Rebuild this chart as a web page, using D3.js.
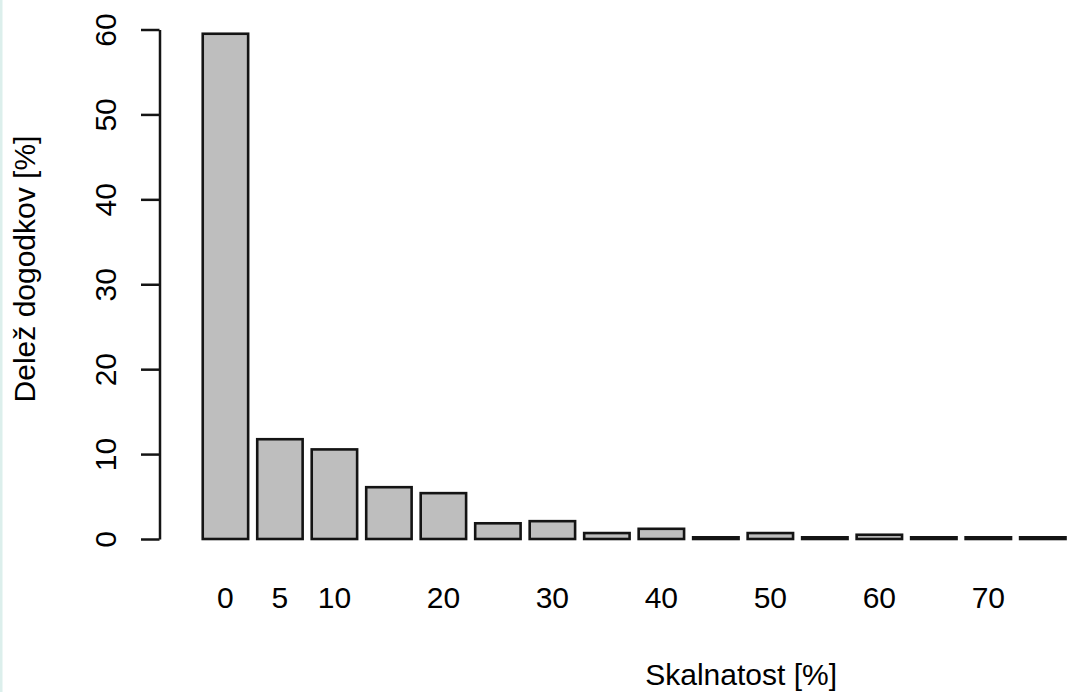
<!DOCTYPE html>
<html>
<head>
<meta charset="utf-8">
<script src="https://cdn.jsdelivr.net/npm/d3@7"></script>
<style>
  body { margin: 0; background: #fff; }
  svg { display: block; }
</style>
</head>
<body>
<div class="chartDiv"></div>
<script>

// ---------------- data ----------------
// rock cover classes [%] that are visible in the picture
let categories = ["0", "5", "10", "15", "20", "25", "30", "35", "40", "45", "50", "55", "60", "65", "70", "75"];
// share of events [%]
let shares = [59.5, 11.75, 10.55, 6.1, 5.4, 1.85, 2.1, 0.7, 1.2, 0.2, 0.7, 0.2, 0.5, 0.2, 0.2, 0.2];
// labels R kept under the bars (the others were dropped for overlap)
let xTickLabels = ["0", "5", "10", "20", "30", "40", "50", "60", "70"];
let yTicks = [0, 10, 20, 30, 40, 50, 60];

// the original barplot had 20 bars, the picture is cut off at the right
let nSlots = 20;

// ---------------- setup ----------------
let width = 1069,
    height = 692,
    fontSize = 30;

// barplot user coordinates like R: bar i spans [0.2 + 1.2i, 1.2 + 1.2i], xlim extended by 4%
let barLeft = i => 0.2 + 1.2 * i;
let xMin = barLeft(0), xMax = barLeft(nSlots - 1) + 1;
let ext = 0.04 * (xMax - xMin);
let pxPerUnit = 45.41;
let plotLeft = 159.5;

let x = d3.scaleLinear()
    .domain([xMin - ext, xMax + ext])
    .range([plotLeft, plotLeft + pxPerUnit * (xMax - xMin + 2 * ext)]);

let y = d3.scaleLinear()
    .domain([0, 60])
    .range([539, 29.5]);

let svg = d3.select(".chartDiv").append("svg")
    .attr("width", width)
    .attr("height", height)
    .style("background-color", "white")
    .style("font-family", "'Liberation Sans', Arial, sans-serif");

// thin light border at the left edge of the screenshot
svg.append("rect")
    .attr("x", 0)
    .attr("y", 0)
    .attr("width", 2.5)
    .attr("height", height)
    .attr("fill", "#dcefec");

// ---------------- bars ----------------
svg.append("g").selectAll("rect")
    .data(shares)
    .join("rect")
    .attr("x", (d, i) => x(barLeft(i)))
    .attr("width", (d, i) => x(barLeft(i) + 1) - x(barLeft(i)))
    .attr("y", d => y(d))
    .attr("height", d => y(0) - y(d))
    .attr("fill", "#bebebe")
    .attr("stroke", "#141414")
    .attr("stroke-width", 2.6);

// ---------------- y axis ----------------
let yAxis = d3.axisLeft(y)
    .tickValues(yTicks)
    .tickSize(18.5)
    .tickSizeOuter(0)
    .tickFormat(d3.format("d"));

let yAxisG = svg.append("g")
    .attr("transform", "translate(" + plotLeft + ",0)")
    .call(yAxis);

yAxisG.select(".domain")
    .attr("stroke", "#141414")
    .attr("stroke-width", 2.5);

yAxisG.selectAll(".tick line")
    .attr("stroke", "#141414")
    .attr("stroke-width", 2.5);

yAxisG.selectAll(".tick text")
    .attr("transform", "rotate(-90)")
    .attr("x", 0)
    .attr("y", -44)
    .attr("dy", 0)
    .style("text-anchor", "middle")
    .style("font-size", fontSize + "px")
    .style("font-family", "'Liberation Sans', Arial, sans-serif")
    .attr("fill", "#000");

// ---------------- x labels (no axis line, like barplot names) ----------------
svg.append("g").selectAll("text")
    .data(categories.map((c, i) => ({c: c, i: i})).filter(d => xTickLabels.includes(d.c)))
    .join("text")
    .attr("x", d => x(barLeft(d.i) + 0.5))
    .attr("y", 608)
    .attr("text-anchor", "middle")
    .style("font-size", fontSize + "px")
    .attr("fill", "#000")
    .text(d => d.c);

// ---------------- axis titles ----------------
svg.append("text")
    .attr("x", (x.range()[0] + x.range()[1]) / 2 - 2)
    .attr("y", 685)
    .attr("text-anchor", "middle")
    .style("font-size", fontSize + "px")
    .attr("fill", "#000")
    .text("Skalnatost [%]");

svg.append("text")
    .attr("transform", "translate(35,269) rotate(-90)")
    .attr("text-anchor", "middle")
    .style("font-size", fontSize + "px")
    .attr("fill", "#000")
    .text("Delež dogodkov [%]");

</script>
</body>
</html>
